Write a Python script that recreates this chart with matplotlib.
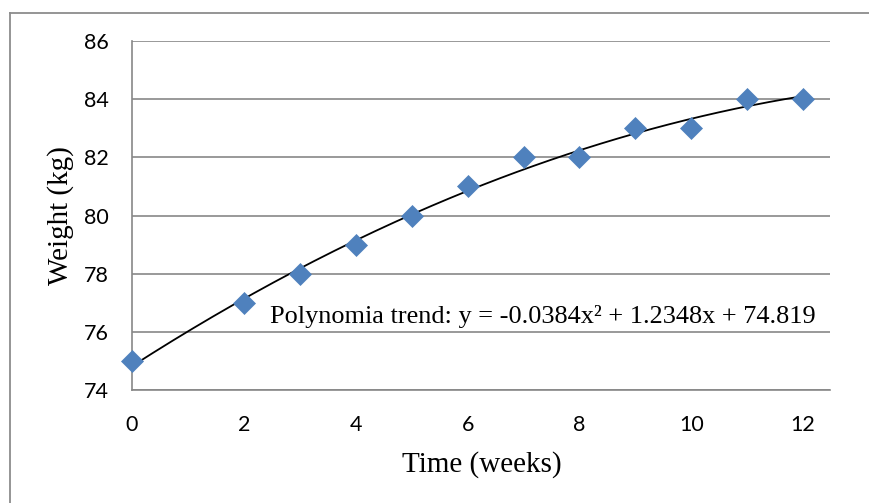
import matplotlib
matplotlib.use("Agg")
import matplotlib.pyplot as plt
import numpy as np
from matplotlib.lines import Line2D

# Data
weeks = [0, 2, 3, 4, 5, 6, 7, 8, 9, 10, 11, 12]
weight = [75, 77, 78, 79, 80, 81, 82, 82, 83, 83, 84, 84]
trend_coeffs = [-0.0384, 1.2348, 74.819]
trend_label = "Polynomia trend: y = -0.0384x\u00b2 + 1.2348x + 74.819"
x_ticks = [0, 2, 4, 6, 8, 10, 12]
y_ticks = [74, 76, 78, 80, 82, 84, 86]

W, H = 869, 503
fig = plt.figure(figsize=(W / 100, H / 100), dpi=100)
ax = fig.add_axes([132 / W, (H - 390) / H, 698 / W, 349 / H])

grid_color = "#878787"
tick_font = "Lato"
serif = "Liberation Serif"

# trendline
xs = np.linspace(min(weeks), max(weeks), 200)
ax.plot(xs, np.polyval(trend_coeffs, xs), color="black", lw=1.3, zorder=3)
# points
ax.plot(weeks, weight, linestyle="none", marker="D", ms=10.8,
        mfc="#4F81BD", mec="#4F81BD", mew=0.5, zorder=4, clip_on=False)

ax.set_xlim(0, 12.48)
ax.set_ylim(74, 86)
ax.set_xticks(x_ticks)
ax.set_yticks(y_ticks)
ax.yaxis.grid(True, color=grid_color, lw=1.2)
ax.set_axisbelow(True)
for s in ["top", "right"]:
    ax.spines[s].set_visible(False)
for s in ["left", "bottom"]:
    ax.spines[s].set_color(grid_color)
    ax.spines[s].set_linewidth(1.2)
ax.tick_params(axis="both", length=0, labelsize=15.5)
ax.tick_params(axis="y", pad=17)
ax.tick_params(axis="x", pad=18)
for lab in ax.get_xticklabels() + ax.get_yticklabels():
    lab.set_fontfamily(tick_font)

ax.text(138 / 698, (390 - 323) / 349, trend_label, fontsize=18.9, family=serif,
        ha="left", va="baseline", zorder=5, transform=ax.transAxes)

fig.text(61 / W, (H - 216) / H, "Weight (kg)", rotation=90, fontsize=21,
         family=serif, ha="center", va="center")
fig.text(482 / W, (H - 465) / H, "Time (weeks)", fontsize=21,
         family=serif, ha="center", va="center")

# outer chart border (left and top visible)
fig.add_artist(Line2D([10 / W, 10 / W], [0, (H - 13) / H], color="#8c8c8c",
                      lw=1.3, transform=fig.transFigure))
fig.add_artist(Line2D([10 / W, 1], [(H - 13) / H, (H - 13) / H], color="#8c8c8c",
                      lw=1.3, transform=fig.transFigure))

fig.savefig("out.png", dpi=100)
